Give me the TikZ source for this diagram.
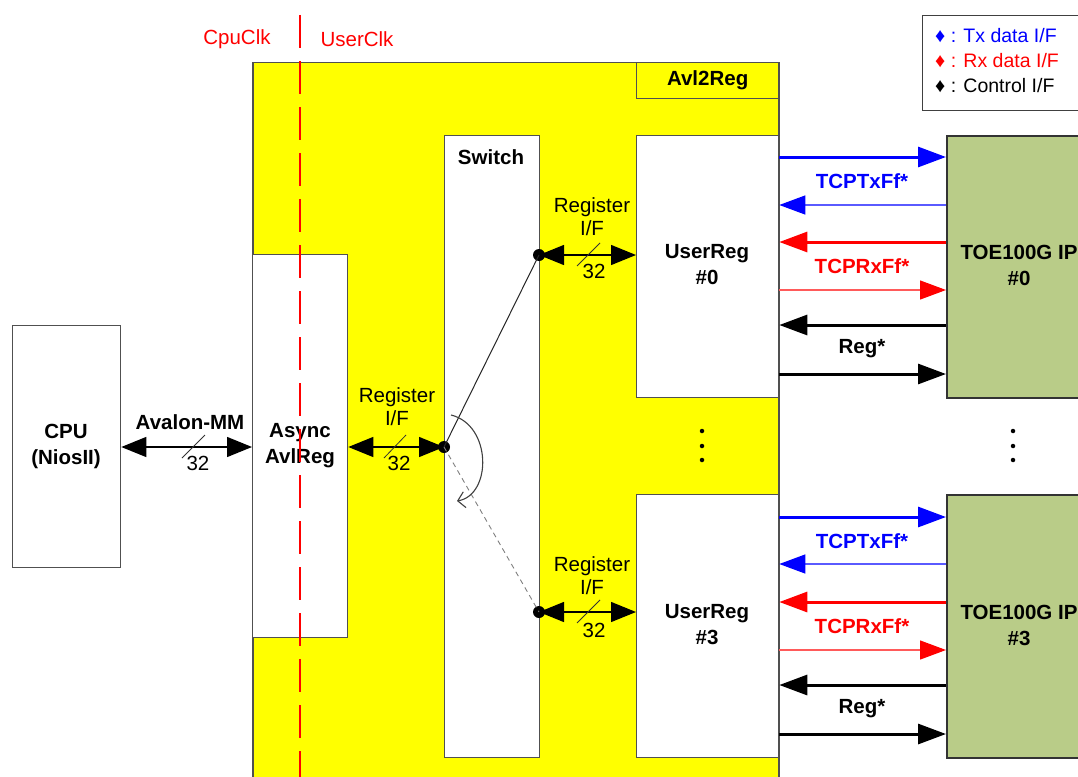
\documentclass[tikz,border=0pt]{standalone}
\usepackage{fontspec}
\setmainfont{Liberation Sans}
\usetikzlibrary{arrows.meta}
\definecolor{toegreen}{RGB}{185,204,136}
\definecolor{bordergray}{RGB}{80,80,80}
\definecolor{lightblue}{RGB}{90,90,255}
\definecolor{lightred}{RGB}{255,90,90}
\definecolor{pureyellow}{RGB}{255,255,0}
\begin{document}
\begin{tikzpicture}[x=1pt,y=-1pt,
  font=\fontsize{20.5}{26}\selectfont,
  box/.style={draw=bordergray, line width=1.3pt, fill=white, inner sep=0pt},
  btxt/.style={font=\bfseries\fontsize{20.5}{26}\selectfont, align=center, inner sep=0pt},
  ntxt/.style={font=\fontsize{20.5}{23}\selectfont, align=center, inner sep=0pt},
  bus/.style={{Triangle[length=25pt,width=20pt]}-{Triangle[length=25pt,width=20pt]}, line width=1.3pt},
  slash/.style={line width=0.8pt, draw=black!80},
  thickarr/.style={-{Triangle[length=28pt,width=20pt]}, line width=3pt},
  thinblue/.style={-{Triangle[length=26pt,width=19pt,color=blue]}, line width=1.2pt, lightblue},
  thinred/.style={-{Triangle[length=26pt,width=19pt,color=red]}, line width=1.2pt, lightred},
  jdot/.style={circle, fill=black, inner sep=0pt, minimum size=12pt},
  vdot/.style={circle, fill=black, inner sep=0pt, minimum size=4.5pt}
]
\useasboundingbox (0,0) rectangle (1078,776);
\fill[white] (0,0) rectangle (1078,776);
\clip (0,0) rectangle (1078,776);

% Avl2Reg region
\node[draw=bordergray, line width=1.5pt, fill=pureyellow, minimum width=526, minimum height=740, anchor=north west, inner sep=0pt] (avl) at (252,62) {};
\node[draw=bordergray, line width=1.3pt, fill=pureyellow, minimum width=142, minimum height=36, anchor=north west, inner sep=0pt] (avltitle) at (636,62) {};
\node[btxt] (avltxt) at (avltitle.center) {Avl2Reg};

% CPU
\node[box, minimum width=108, minimum height=242, anchor=north west] (cpu) at (12,325) {};
\node[btxt] (cputxt) at (66,446) {CPU\\(NiosII)};

% Async
\node[box, minimum width=95, minimum height=383, anchor=north west] (async) at (252,254) {};
\node[btxt] (asynctxt) at (300,446) {Async\\AvlReg};

% Switch
\node[box, minimum width=95, minimum height=622, anchor=north west] (sw) at (444,135) {};
\node[btxt] (swtxt) at (491,157) {Switch};

% UserReg boxes
\node[box, minimum width=142, minimum height=262, anchor=north west] (ur0) at (636,135) {};
\node[btxt] (ur0txt) at (707,265) {UserReg\\\#0};
\node[box, minimum width=142, minimum height=263, anchor=north west] (ur3) at (636,494) {};
\node[btxt] (ur3txt) at (707,625) {UserReg\\\#3};

% TOE boxes
\node[draw=black!80, line width=1.5pt, fill=toegreen, minimum width=150, minimum height=262, anchor=north west, inner sep=0pt] (toe0) at (946,135) {};
\node[btxt] (toe0txt) at (1019,265) {TOE100G IP\\\#0};
\node[draw=black!80, line width=1.5pt, fill=toegreen, minimum width=150, minimum height=263, anchor=north west, inner sep=0pt] (toe3) at (946,494) {};
\node[btxt] (toe3txt) at (1019,625) {TOE100G IP\\\#3};

% Avalon-MM bus
\draw[bus] (cpu.east |- 0,447) -- (async.west |- 0,447);
\node[btxt] (avmm) at (190,422) {Avalon-MM};
\draw[slash] (182,458) -- (205,435);
\node[ntxt] (n32a) at (198,463) {32};

% Register I/F left
\node[jdot] (jl) at (444,447) {};
\draw[bus] (async.east |- 0,447) -- (jl.center);
\node[ntxt] (rifl) at (397,407) {Register\\I/F};
\draw[slash] (384,458) -- (406,435);
\node[ntxt] (n32b) at (399,463) {32};

% Switch internals
\node[jdot] (j0) at (539,255) {};
\node[jdot] (j3) at (539,612) {};
\draw[line width=1pt, black!85] (jl.center) -- (j0.center);
\draw[line width=0.9pt, gray, dashed, dash pattern=on 5pt off 4pt] (jl.center) -- (j3.center);
\draw[line width=1.1pt, black!75, -{Straight Barb[length=7pt,width=16pt]}] (451,415) .. controls (492,425) and (492,495) .. (457,501);

% Register I/F right
\draw[bus] (j0.center) -- (ur0.west |- j0);
\node[ntxt] (rif0) at (592,217) {Register\\I/F};
\draw[slash] (577,266) -- (600,243);
\node[ntxt] (n32c) at (594,271) {32};
\draw[bus] (j3.center) -- (ur3.west |- j3);
\node[ntxt] (rif3) at (592,576) {Register\\I/F};
\draw[slash] (577,623) -- (600,600);
\node[ntxt] (n32d) at (594,630) {32};

% vertical dots
\foreach \yy/\nm in {431/a,446/b,460/c} {
  \node[vdot] (dl\nm) at (702,\yy) {};
  \node[vdot] (dr\nm) at (1013,\yy) {};
}

% I/F arrows #0
\draw[thickarr, blue] (ur0.east |- 0,157) -- (toe0.west |- 0,157);
\node[btxt, text=blue] (tx0) at (862,181) {TCPTxFf*};
\draw[thinblue] (toe0.west |- 0,205) -- (ur0.east |- 0,205);
\draw[thickarr, red] (toe0.west |- 0,242) -- (ur0.east |- 0,242);
\node[btxt, text=red] (rx0) at (862,266) {TCPRxFf*};
\draw[thinred] (ur0.east |- 0,290) -- (toe0.west |- 0,290);
\draw[thickarr, black] (toe0.west |- 0,325) -- (ur0.east |- 0,325);
\node[btxt] (reg0) at (862,349) {Reg*};
\draw[thickarr, black] (ur0.east |- 0,374) -- (toe0.west |- 0,374);

% I/F arrows #3
\draw[thickarr, blue] (ur3.east |- 0,517) -- (toe3.west |- 0,517);
\node[btxt, text=blue] (tx3) at (862,541) {TCPTxFf*};
\draw[thinblue] (toe3.west |- 0,564) -- (ur3.east |- 0,564);
\draw[thickarr, red] (toe3.west |- 0,602) -- (ur3.east |- 0,602);
\node[btxt, text=red] (rx3) at (862,626) {TCPRxFf*};
\draw[thinred] (ur3.east |- 0,650) -- (toe3.west |- 0,650);
\draw[thickarr, black] (toe3.west |- 0,685) -- (ur3.east |- 0,685);
\node[btxt] (reg3) at (862,709) {Reg*};
\draw[thickarr, black] (ur3.east |- 0,734) -- (toe3.west |- 0,734);

% clock domain
\node[ntxt, text=red] (cpuclk) at (237,39) {CpuClk};
\node[ntxt, text=red] (userclk) at (357,39) {UserClk};
\coordinate (clktop) at (300,15);
\coordinate (clkbot) at (300,790);
\draw[red, line width=1.5pt, dash pattern=on 33pt off 13pt] (clktop) -- (clkbot);

% legend
\node[draw=black!75, line width=1.3pt, fill=white, minimum width=170, minimum height=95, anchor=north west, inner sep=0pt] (legend) at (922,15) {};
\node[anchor=west, inner sep=0pt, text=blue, font=\fontsize{19.5}{22}\selectfont] (lg1) at (935,36) {{\fontsize{20}{20}\selectfont ♦} : Tx data I/F};
\node[anchor=west, inner sep=0pt, text=red, font=\fontsize{19.5}{22}\selectfont] (lg2) at (935,61) {{\fontsize{20}{20}\selectfont ♦} : Rx data I/F};
\node[anchor=west, inner sep=0pt, text=black, font=\fontsize{19.5}{22}\selectfont] (lg3) at (935,86) {{\fontsize{20}{20}\selectfont ♦} : Control I/F};
\end{tikzpicture}
\end{document}
